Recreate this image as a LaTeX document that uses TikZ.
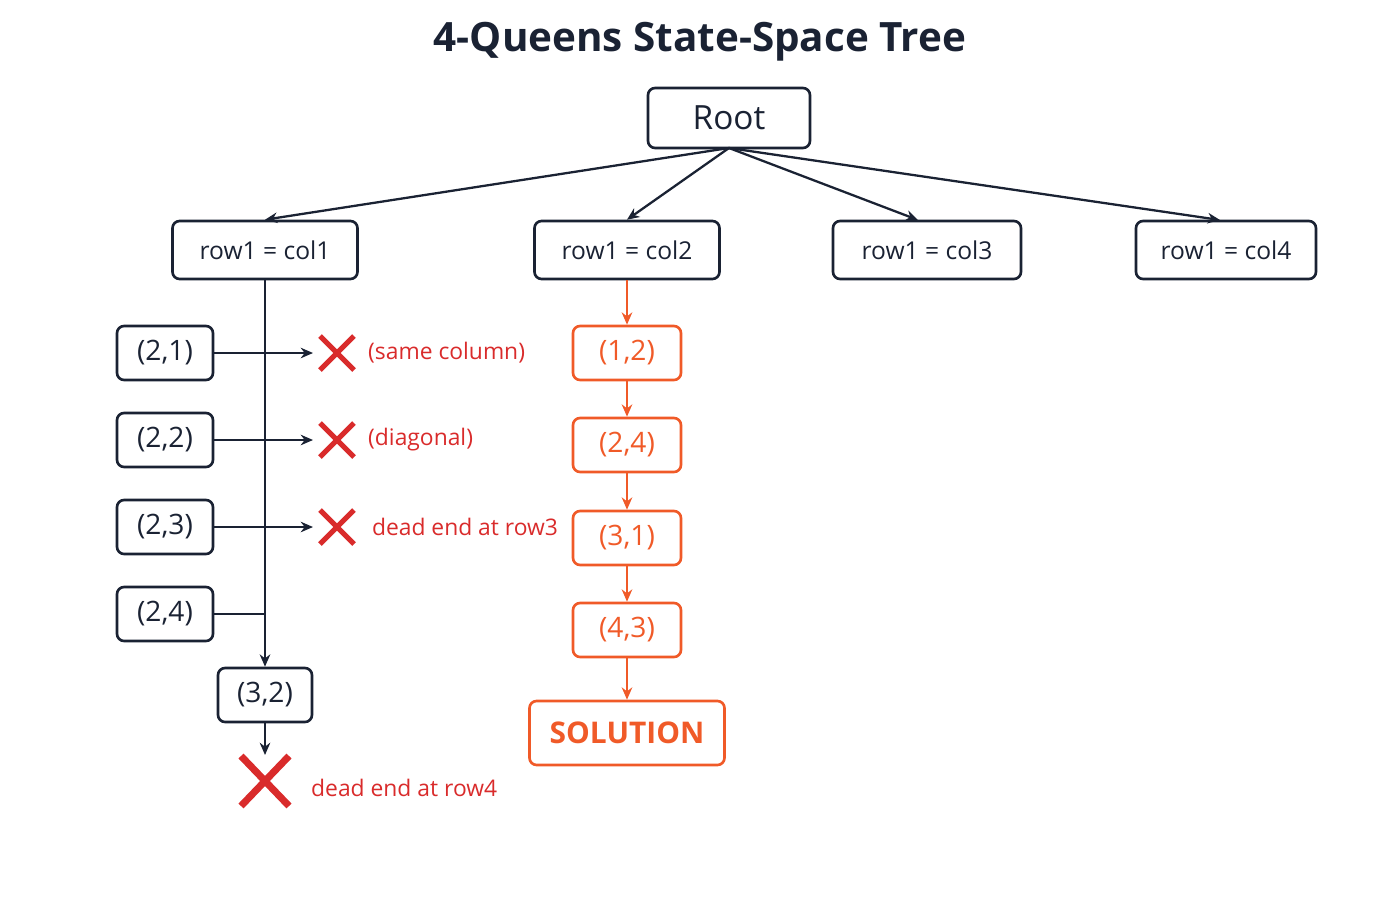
\documentclass[tikz,border=0pt]{standalone}
\usepackage{fontspec}
\setmainfont{Open Sans}
\usetikzlibrary{arrows.meta}
\definecolor{navy}{HTML}{1A2233}
\definecolor{org}{HTML}{F05A28}
\definecolor{rd}{HTML}{D92B2B}
\begin{document}
\begin{tikzpicture}[x=0.02cm,y=-0.02cm,
 box/.style={draw=navy,line width=1.5pt,rounded corners=4pt,text=navy,font=\fontsize{14}{16}\selectfont,inner sep=0pt},
 obox/.style={draw=org,line width=1.5pt,rounded corners=4pt,text=org,font=\fontsize{16}{18}\selectfont,minimum width=2.16cm,minimum height=1.08cm,inner sep=0pt},
 sbox/.style={box,minimum width=1.92cm,minimum height=1.08cm,font=\fontsize{16}{18}\selectfont},
 rbox/.style={box,minimum width=3.7cm,minimum height=1.16cm},
 arr/.style={-{Stealth[length=7pt,width=6pt]},line width=1.3pt,draw=navy},
 oarr/.style={-{Stealth[length=7pt,width=6pt]},line width=1.3pt,draw=org},
 lbl/.style={text=rd,font=\fontsize{13}{15}\selectfont,anchor=west},
 cross/.style={draw=rd,line width=3pt}]
\useasboundingbox (0,0) rectangle (1400,900);
\node[text=navy,font=\bfseries\fontsize{23}{26}\selectfont] (title) at (700,42) {4-Queens State-Space Tree};
\node[box,minimum width=3.24cm,minimum height=1.2cm,font=\fontsize{19}{21}\selectfont] (root) at (729,118) {Root};
\node[rbox] (c1) at (265,250) {row1 = col1};
\node[rbox] (c2) at (627,250) {row1 = col2};
\node[rbox,minimum width=3.76cm] (c3) at (927,250) {row1 = col3};
\node[rbox,minimum width=3.6cm] (c4) at (1226,250) {row1 = col4};
\coordinate (rb) at (729,148);
\draw[arr] (rb) -- (c1.north);
\draw[arr] (rb) -- (c2.north);
\draw[arr] (rb) -- (918,220);
\draw[arr] (rb) -- (1220,220);
% left branch
\node[sbox] (a1) at (165,353) {(2,1)};
\node[sbox] (a2) at (165,440) {(2,2)};
\node[sbox] (a3) at (165,527) {(2,3)};
\node[sbox] (a4) at (165,614) {(2,4)};
\node[sbox,minimum width=1.88cm] (b32) at (265,695) {(3,2)};
\draw[arr] (c1.south) -- (b32.north);
\foreach \n/\y/\t in {a1/353/(same column),a2/440/(diagonal),a3/527/{\,dead end at row3}}{
 \coordinate (e\n) at (313,\y);
 \draw[arr] (\n.east) -- (e\n);
 \draw[cross] (320,\y-17) -- (354,\y+17) (320,\y+17) -- (354,\y-17);
 \node[lbl] at (362,\y) {\t};
}
\coordinate (j4) at (265,614);
\draw[line width=1.3pt,navy] (a4.east) -- (j4);
\coordinate (x4) at (265,755);
\draw[arr] (b32.south) -- (x4);
\draw[cross,line width=4pt] (241,756) -- (289,806) (241,806) -- (289,756);
\node[lbl] at (305,788) {dead end at row4};
% solution path
\node[obox] (o1) at (627,353) {(1,2)};
\node[obox] (o2) at (627,445) {(2,4)};
\node[obox] (o3) at (627,538) {(3,1)};
\node[obox] (o4) at (627,630) {(4,3)};
\node[obox,minimum width=3.9cm,minimum height=1.28cm,font=\bfseries\fontsize{17}{19}\selectfont] (sol) at (627,733) {SOLUTION};
\draw[oarr] (c2.south) -- (o1.north);
\draw[oarr] (o1) -- (o2);
\draw[oarr] (o2) -- (o3);
\draw[oarr] (o3) -- (o4);
\draw[oarr] (o4.south) -- (sol.north);
\end{tikzpicture}
\end{document}
